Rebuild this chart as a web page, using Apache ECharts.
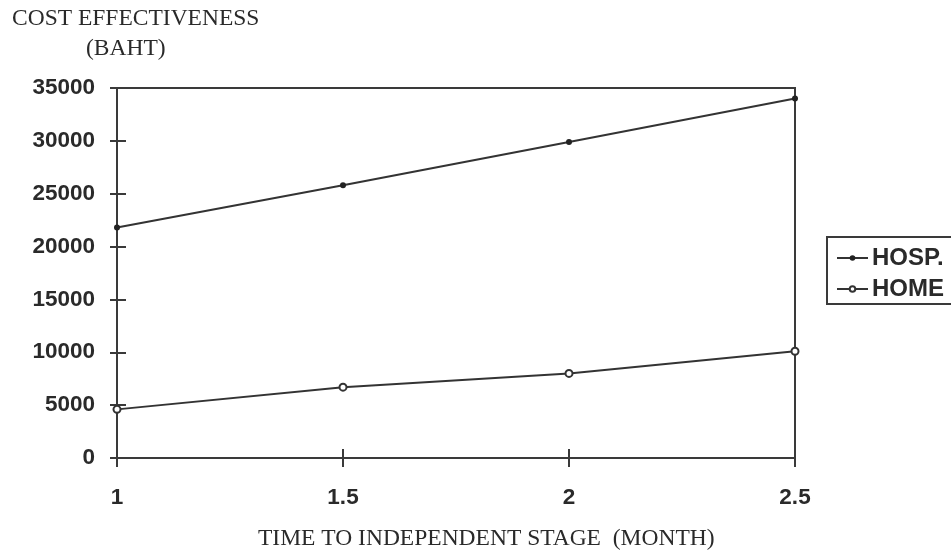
<!DOCTYPE html>
<html>
<head>
<meta charset="utf-8">
<script src="https://cdn.jsdelivr.net/npm/echarts@6/dist/echarts.min.js"></script>
<style>
  html, body { margin: 0; padding: 0; background: #fff; }
  #chart { width: 951px; height: 555px; }
</style>
</head>
<body>
<div id="chart"></div>
<script>
// Time to independent stage (months)
const months = [1, 1.5, 2, 2.5];
// Cost effectiveness (baht)
const hospCost = [21800, 25800, 29900, 34000];
const homeCost = [4600, 6700, 8000, 10100];
const seriesNames = ['HOSP.', 'HOME'];
const yTitle = ['COST EFFECTIVENESS', '(BAHT)'];
const xTitle = 'TIME TO INDEPENDENT STAGE  (MONTH)';

const ink = '#2a2a2a';
const frame = '#3a3a3a';
const tickFont = { fontFamily: 'Liberation Sans, Arial, sans-serif', fontWeight: 'bold', fontSize: 22.5, color: ink };
const serif = '23.5px "Liberation Serif", "Times New Roman", serif';

const chart = echarts.init(document.getElementById('chart'), null, { renderer: 'canvas' });

const yRange = { type: 'value', min: 0, max: 35000, interval: 5000 };
const xRange = { type: 'value', min: 1, max: 2.5, interval: 0.5 };

chart.setOption({
  backgroundColor: '#ffffff',
  animation: false,
  grid: {
    left: 117, right: 156, top: 88, bottom: 97,
    show: true, borderColor: frame, borderWidth: 2, backgroundColor: 'transparent'
  },
  xAxis: [
    Object.assign({}, xRange, {
      position: 'bottom',
      axisLine: { show: true, onZero: false, lineStyle: { color: frame, width: 2 } },
      axisTick: { show: true, length: 9, lineStyle: { color: frame, width: 2 } },
      axisLabel: Object.assign({ margin: 28, formatter: v => String(v) }, tickFont),
      splitLine: { show: false }
    }),
    Object.assign({}, xRange, {
      position: 'bottom', offset: 0,
      axisLine: { show: false },
      axisTick: { show: true, inside: true, length: 9, lineStyle: { color: frame, width: 2 } },
      axisLabel: { show: false },
      splitLine: { show: false }
    })
  ],
  yAxis: [
    Object.assign({}, yRange, {
      position: 'left',
      axisLine: { show: true, onZero: false, lineStyle: { color: frame, width: 2 } },
      axisTick: { show: true, length: 7, lineStyle: { color: frame, width: 2 } },
      axisLabel: Object.assign({ margin: 22, formatter: v => String(v) }, tickFont),
      splitLine: { show: false }
    }),
    Object.assign({}, yRange, {
      position: 'left', offset: 0,
      axisLine: { show: false },
      axisTick: { show: true, inside: true, length: 9, lineStyle: { color: frame, width: 2 } },
      axisLabel: { show: false },
      splitLine: { show: false }
    })
  ],
  legend: {
    orient: 'vertical',
    left: 827, top: 237,
    padding: [9, 12, 3, 9],
    itemGap: 7,
    itemWidth: 31, itemHeight: 7,
    borderColor: frame, borderWidth: 2, borderRadius: 0,
    backgroundColor: '#ffffff',
    textStyle: { fontFamily: 'Liberation Sans, Arial, sans-serif', fontWeight: 'bold', fontSize: 24, color: ink, padding: [0, 0, 0, -1] },
    data: seriesNames
  },
  graphic: [
    { type: 'text', left: 12, top: 7, style: { text: yTitle[0], font: serif, fill: ink } },
    { type: 'text', left: 86, top: 37, style: { text: yTitle[1], font: serif, fill: ink } },
    { type: 'text', left: 258, top: 527, style: { text: xTitle, font: serif, fill: ink } }
  ],
  series: [
    {
      name: seriesNames[0], type: 'line', xAxisIndex: 0, yAxisIndex: 0,
      data: months.map((m, i) => [m, hospCost[i]]),
      symbol: 'circle', symbolSize: 6, showAllSymbol: true,
      lineStyle: { color: '#333', width: 2 },
      itemStyle: { color: '#222' },
      z: 3
    },
    {
      name: seriesNames[1], type: 'line', xAxisIndex: 0, yAxisIndex: 0,
      data: months.map((m, i) => [m, homeCost[i]]),
      symbol: 'emptyCircle', symbolSize: 7, showAllSymbol: true,
      lineStyle: { color: '#333', width: 2 },
      itemStyle: { color: '#333', borderWidth: 1.5 },
      z: 3
    }
  ]
});
</script>
</body>
</html>
